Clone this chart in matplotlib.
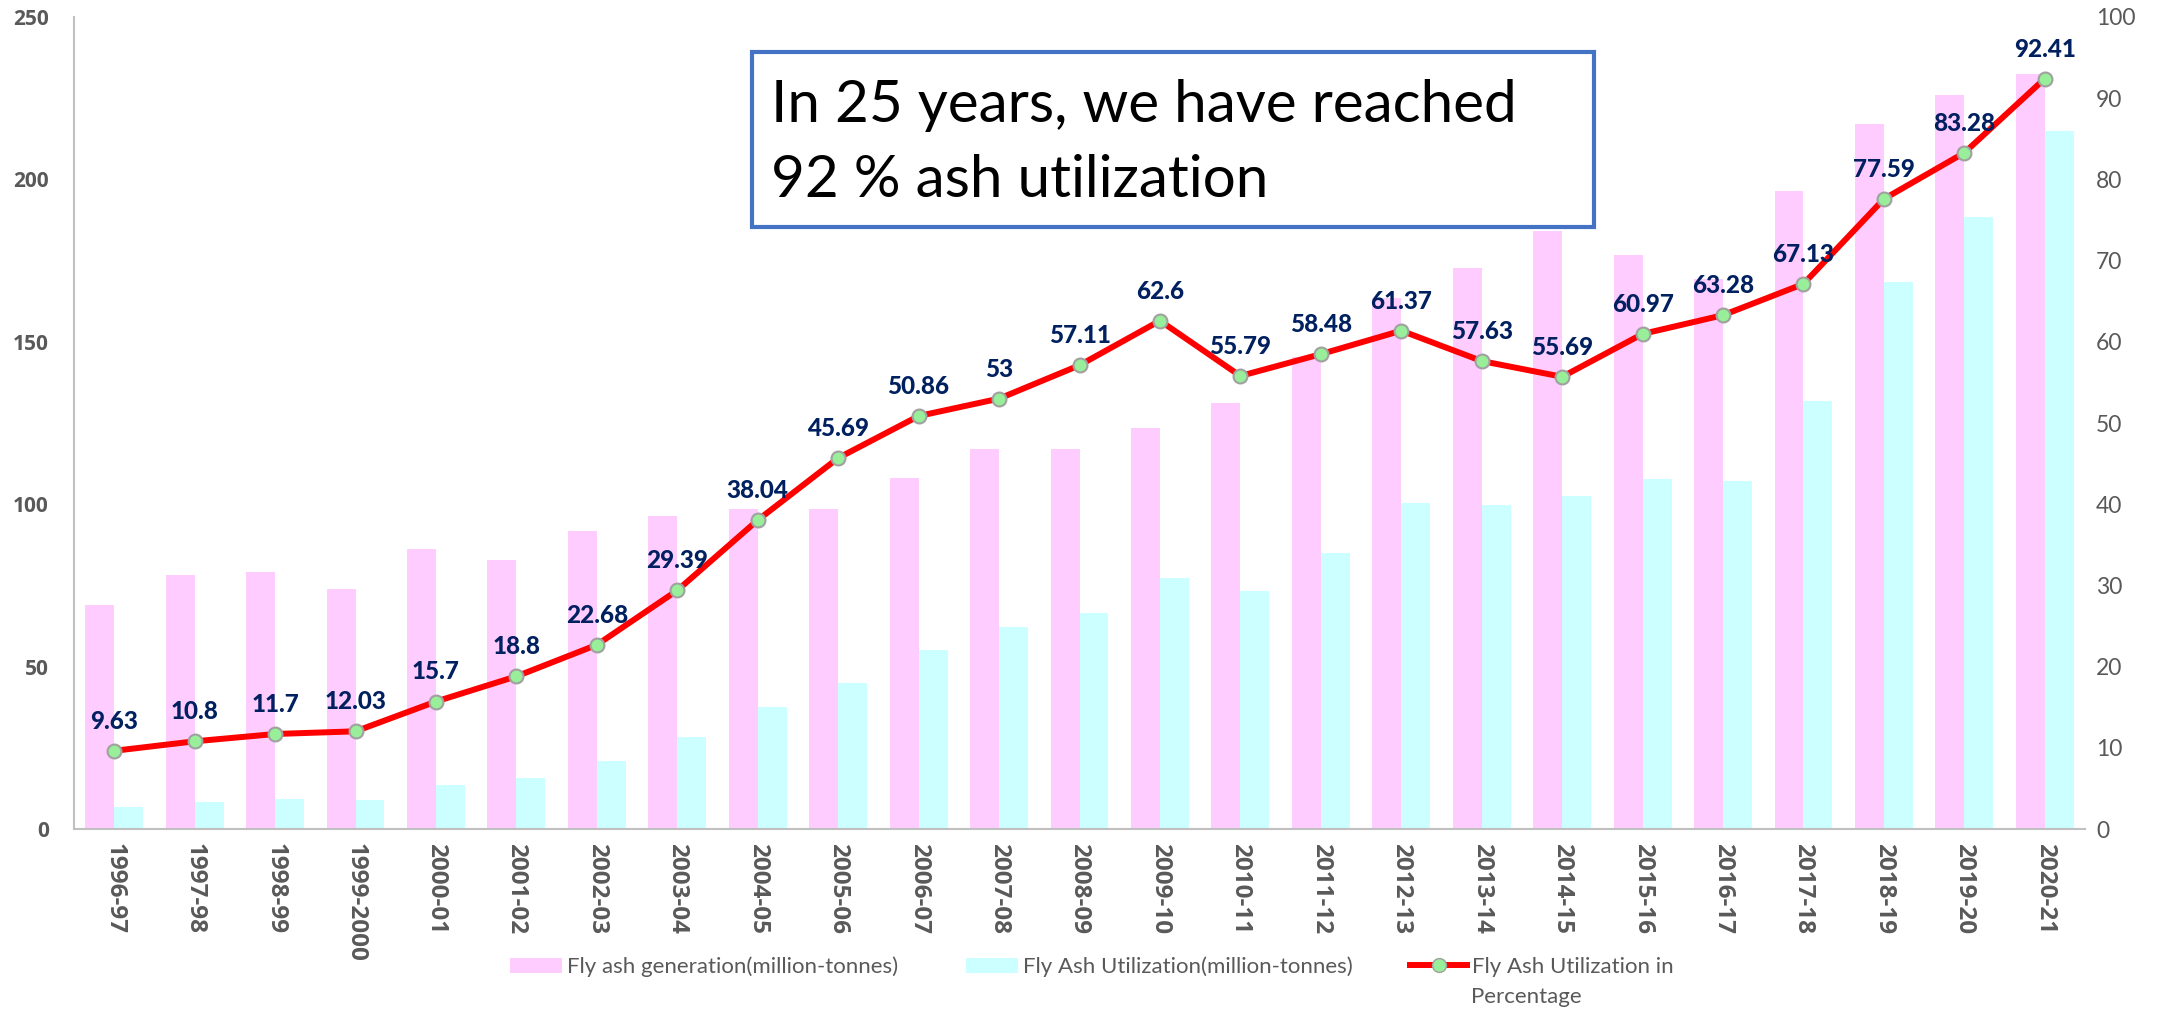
import matplotlib
matplotlib.use("Agg")
import matplotlib.pyplot as plt
import numpy as np
from matplotlib.patches import Rectangle, Patch
from matplotlib.lines import Line2D

years = ["1996-97", "1997-98", "1998-99", "1999-2000", "2000-01", "2001-02", "2002-03",
         "2003-04", "2004-05", "2005-06", "2006-07", "2007-08", "2008-09", "2009-10",
         "2010-11", "2011-12", "2012-13", "2013-14", "2014-15", "2015-16", "2016-17",
         "2017-18", "2018-19", "2019-20", "2020-21"]
generation = [68.88, 78.06, 78.99, 74.03, 86.29, 82.81, 91.65, 96.28, 98.57, 98.57,
              108.15, 117.07, 116.94, 123.54, 131.09, 145.42, 163.56, 172.87, 184.14,
              176.74, 169.25, 196.44, 217.04, 226.13, 232.56]
utilization = [6.64, 8.43, 9.22, 8.91, 13.54, 15.57, 20.79, 28.29, 37.49, 45.03,
               55.01, 62.04, 66.64, 77.33, 73.13, 85.05, 100.37, 99.62, 102.54,
               107.77, 107.10, 131.87, 168.40, 188.31, 214.91]
percentage = [9.63, 10.8, 11.7, 12.03, 15.7, 18.8, 22.68, 29.39, 38.04, 45.69,
              50.86, 53, 57.11, 62.6, 55.79, 58.48, 61.37, 57.63, 55.69, 60.97,
              63.28, 67.13, 77.59, 83.28, 92.41]
percent_labels = ["9.63", "10.8", "11.7", "12.03", "15.7", "18.8", "22.68", "29.39",
                  "38.04", "45.69", "50.86", "53", "57.11", "62.6", "55.79", "58.48",
                  "61.37", "57.63", "55.69", "60.97", "63.28", "67.13", "77.59",
                  "83.28", "92.41"]
left_ticks = [0, 50, 100, 150, 200, 250]
right_ticks = [0, 10, 20, 30, 40, 50, 60, 70, 80, 90, 100]

PINK = "#FFCCFF"
CYAN = "#CCFFFF"
RED = "#FF0000"
GREEN = "#99EE99"
NAVY = "#002060"
GREY = "#595959"

plt.rcParams['font.family'] = ['Lato', 'DejaVu Sans']

W, H = 2159, 1010
fig = plt.figure(figsize=(W / 100, H / 100), dpi=100)
left_px, right_px, bottom_px, top_px = 74, 2085, 829, 17
ax = fig.add_axes([left_px / W, (H - bottom_px) / H, (right_px - left_px) / W,
                   (bottom_px - top_px) / H])

x = np.arange(len(years))
bw = 0.36
ax.bar(x - bw / 2, generation, width=bw, color=PINK, zorder=1)
ax.bar(x + bw / 2, utilization, width=bw, color=CYAN, zorder=1)
ax.set_xlim(-0.5, len(years) - 0.5)
ax.set_ylim(0, 250)
ax.set_yticks(left_ticks)
ax.set_yticklabels([str(t) for t in left_ticks], fontsize=15, fontweight='bold', color=GREY,
                   family=['Open Sans', 'DejaVu Sans'])
ax.set_xticks(x)
ax.set_xticklabels(years, rotation=-90, fontsize=17.5, fontweight='bold', color=GREY,
                   family=['Open Sans', 'DejaVu Sans'])
ax.tick_params(axis='both', length=0)
ax.tick_params(axis='y', pad=18)
ax.tick_params(axis='x', pad=10)
for s in ['top', 'right']:
    ax.spines[s].set_visible(False)
for s in ['left', 'bottom']:
    ax.spines[s].set_color("#C0C0C0")
    ax.spines[s].set_linewidth(1.5)

ax2 = ax.twinx()
ax2.set_ylim(0, 100)
ax2.set_yticks(right_ticks)
ax2.set_yticklabels([str(t) for t in right_ticks], fontsize=16.5, color=GREY)
ax2.tick_params(axis='y', length=0, pad=8)
for s in ['top', 'right', 'left', 'bottom']:
    ax2.spines[s].set_visible(False)
ax2.plot(x, percentage, color=RED, linewidth=4.3, marker='o', markersize=10,
         markerfacecolor=GREEN, markeredgecolor="#A0A0A0", markeredgewidth=1.5, zorder=3)
for xi, yi, lab in zip(x, percentage, percent_labels):
    ax2.annotate(lab, (xi, yi), xytext=(0, 13), textcoords='offset points',
                 ha='center', va='bottom', fontsize=17.5, fontweight='black', color=NAVY,
                 zorder=4)

# annotation box
bx0, by0, bx1, by1 = 752, 52, 1594, 227
fig.add_artist(Rectangle((bx0 / W, 1 - by1 / H), (bx1 - bx0) / W, (by1 - by0) / H,
                         transform=fig.transFigure, facecolor='white',
                         edgecolor="#4472C4", linewidth=3, zorder=5))
fig.text(771 / W, 1 - 122 / H, "In 25 years, we have reached", fontsize=42,
         color='black', ha='left', va='baseline', zorder=6)
fig.text(771 / W, 1 - 197 / H, "92 % ash utilization", fontsize=42,
         color='black', ha='left', va='baseline', zorder=6)

# legend
LFS = 16
base_kw = dict(frameon=False, fontsize=LFS, borderpad=0, borderaxespad=0,
               labelcolor=GREY, loc='center left')
fig.legend([Patch(facecolor=PINK)], ["Fly ash generation(million-tonnes)"],
           bbox_to_anchor=(510 / W, 1 - 967 / H), handlelength=2.34, handleheight=0.6,
           handletextpad=0.22, **base_kw)
fig.legend([Patch(facecolor=CYAN)], ["Fly Ash Utilization(million-tonnes)"],
           bbox_to_anchor=(966 / W, 1 - 967 / H), handlelength=2.34, handleheight=0.6,
           handletextpad=0.22, **base_kw)
fig.legend([Line2D([0], [0], color=RED, linewidth=4.3, marker='o', markersize=10,
                   markerfacecolor=GREEN, markeredgecolor="#A0A0A0")],
           ["Fly Ash Utilization in"],
           bbox_to_anchor=(1410 / W, 1 - 967 / H), handlelength=2.57,
           handletextpad=0.2, **base_kw)
fig.text(1471 / W, 1 - 997 / H, "Percentage", fontsize=LFS, color=GREY,
         ha='left', va='center')

fig.savefig("out.png", dpi=100, facecolor='white')
